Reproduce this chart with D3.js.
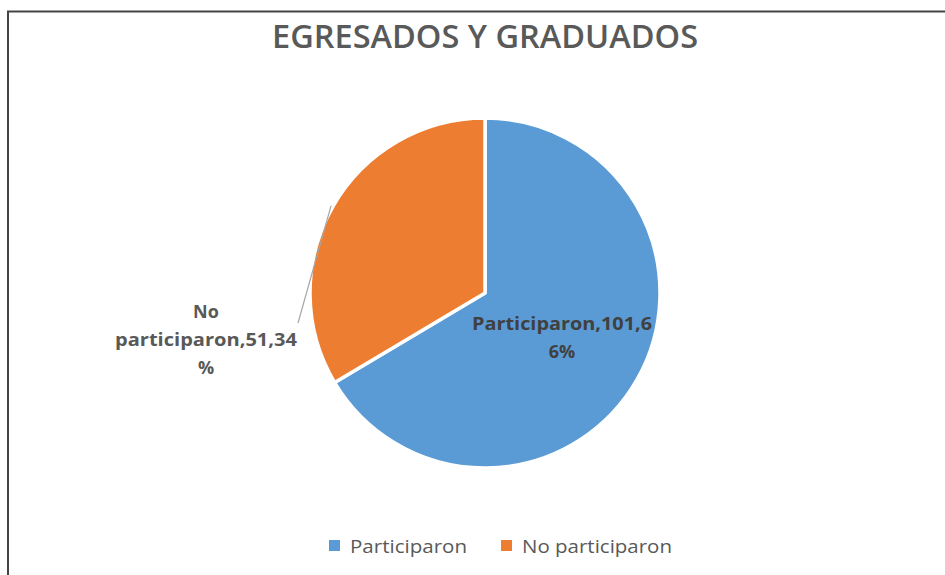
<!DOCTYPE html>
<html>
<head>
<meta charset="utf-8">
<script src="https://cdn.jsdelivr.net/npm/d3@7"></script>
<style>
  body { margin: 0; background: #fff; }
  svg { display: block; font-family: "Open Sans", sans-serif; }
</style>
</head>
<body>
<svg id="chart" width="945" height="575"></svg>
<script>
// data
const categories = ["Participaron", "No participaron"];
const values = [101, 51];
const percents = ["66%", "34%"];
const colors = ["#5b9bd5", "#ed7d31"];
const title = "EGRESADOS Y GRADUADOS";

const svg = d3.select("#chart");
const width = +svg.attr("width");
const height = +svg.attr("height");

// frame (top + left edges only visible)
svg.append("path")
    .attr("d", `M8,${height} V11.5 H${width}`)
    .attr("fill", "none")
    .attr("stroke", "#444")
    .attr("stroke-width", 2);

svg.append("text")
    .attr("x", 485)
    .attr("y", 48)
    .attr("text-anchor", "middle")
    .attr("font-size", 32)
    .attr("font-weight", 600)
    .attr("fill", "#595959")
    .attr("textLength", 426)
    .attr("lengthAdjust", "spacingAndGlyphs")
    .text(title);

const data = categories.map((c, i) => ({name: c, value: values[i], pct: percents[i], color: colors[i]}));

const cx = 485, cy = 293, radius = 175;

const pie = d3.pie().sort(null).value(d => d.value);
const arc = d3.arc().innerRadius(0).outerRadius(radius);
const outer = d3.arc().innerRadius(177).outerRadius(177);

const g = svg.append("g").attr("transform", `translate(${cx},${cy})`);

const arcs = pie(data);

g.selectAll("path.slice")
    .data(arcs)
    .join("path")
    .attr("class", "slice")
    .attr("d", arc)
    .attr("fill", d => d.data.color)
    .attr("stroke", "#fff")
    .attr("stroke-width", 3.5)
    .attr("stroke-linejoin", "round");

// label inside blue slice
const a0 = arcs[0];
const lab0 = g.append("text")
    .attr("text-anchor", "middle")
    .attr("font-size", 18)
    .attr("font-weight", "bold")
    .attr("fill", "#404040");
lab0.append("tspan").attr("x", 77).attr("y", 37)
    .attr("textLength", 180).attr("lengthAdjust", "spacingAndGlyphs")
    .text(`${a0.data.name},${a0.data.value},6`);
lab0.append("tspan").attr("x", 77).attr("y", 65).text("6%");

// outside label for orange slice with leader line
const a1 = arcs[1];
const p0 = outer.centroid(a1);
g.append("line")
    .attr("x1", p0[0]).attr("y1", p0[1])
    .attr("x2", 298 - cx).attr("y2", 323 - cy)
    .attr("stroke", "#a6a6a6")
    .attr("stroke-width", 1.2);

const lab1 = g.append("text")
    .attr("text-anchor", "middle")
    .attr("font-size", 18)
    .attr("font-weight", "bold")
    .attr("fill", "#595959");
lab1.append("tspan").attr("x", 206 - cx).attr("y", 318 - cy).text("No");
lab1.append("tspan").attr("x", 206 - cx).attr("y", 346 - cy)
    .attr("textLength", 182).attr("lengthAdjust", "spacingAndGlyphs")
    .text(`participaron,${a1.data.value},34`);
lab1.append("tspan").attr("x", 206 - cx).attr("y", 374 - cy).text("%");

// legend
const legendX = [329, 501];
const legendW = [117, 150];
const legend = svg.append("g");
const items = legend.selectAll("g")
    .data(data)
    .join("g")
    .attr("transform", (d, i) => `translate(${legendX[i]},540)`);
items.append("rect")
    .attr("width", 11)
    .attr("height", 11)
    .attr("fill", d => d.color);
items.append("text")
    .attr("x", 21)
    .attr("y", 12.5)
    .attr("font-size", 18)
    .attr("fill", "#595959")
    .attr("textLength", (d, i) => legendW[i])
    .attr("lengthAdjust", "spacingAndGlyphs")
    .text(d => d.name);
</script>
</body>
</html>
